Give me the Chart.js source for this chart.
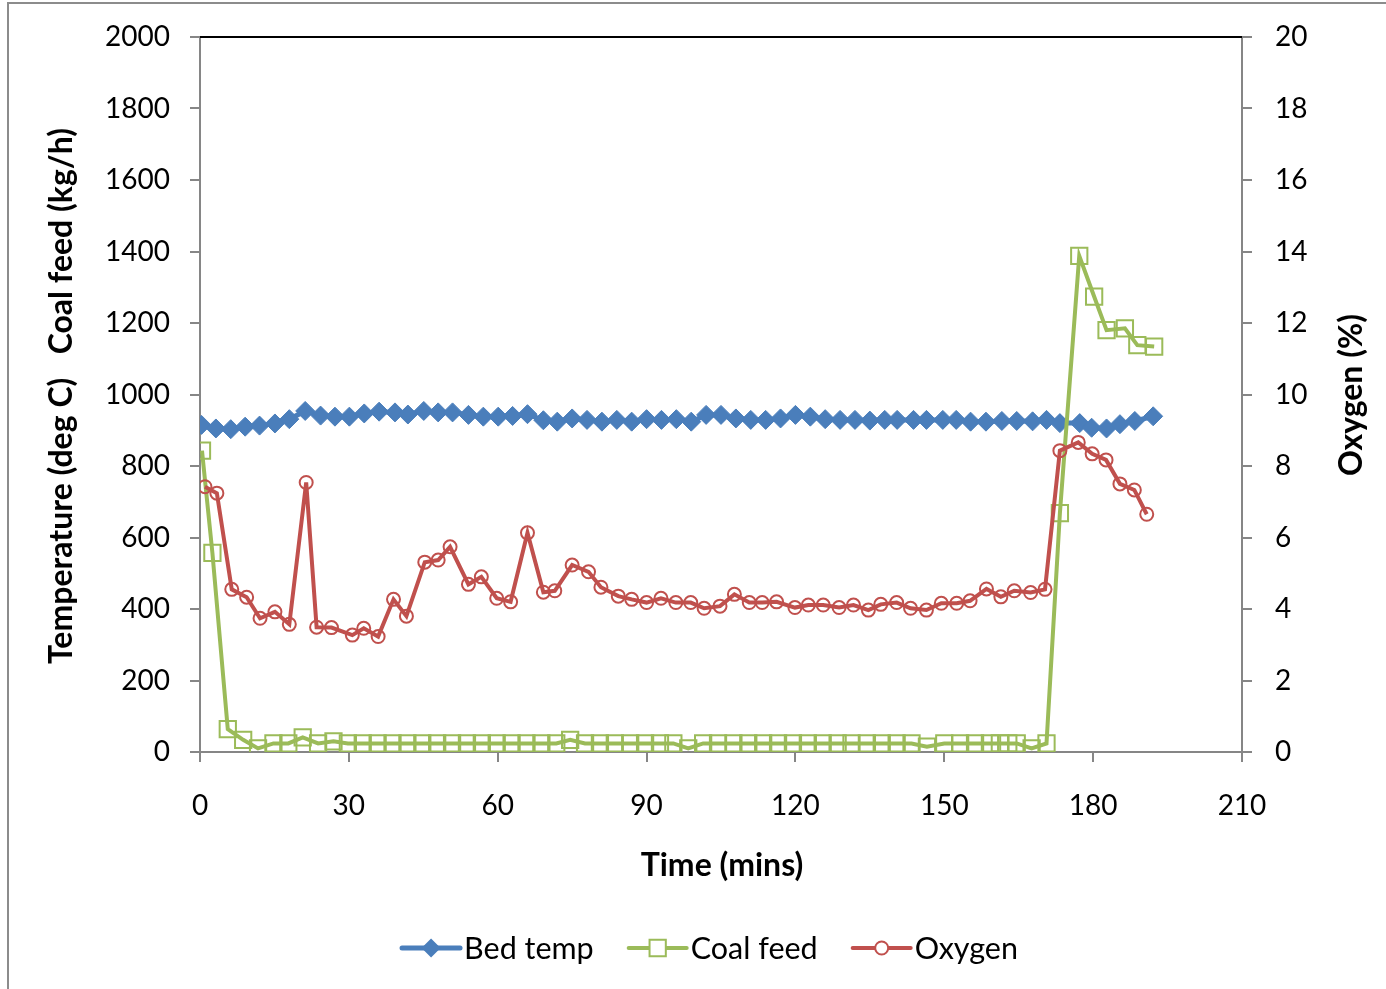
<!DOCTYPE html>
<html><head><meta charset="utf-8">
<script src="https://cdn.jsdelivr.net/npm/chart.js@4.4.1/dist/chart.umd.min.js"></script>
<style>
html,body{margin:0;padding:0;background:#fff;}
#wrap{position:relative;width:1386px;height:989px;overflow:hidden;background:#fff;}
#frame{position:absolute;left:7px;top:2px;width:1400px;height:1000px;border-left:2px solid #8c8c8c;border-top:2px solid #8c8c8c;}
#c{position:absolute;left:0;top:0;}
</style></head><body>
<div id="wrap"><div id="frame"></div><canvas id="c" width="1386" height="989"></canvas></div>
<script>
const xTitle = 'Time (mins)';
const yLeftTitle = 'Temperature (deg C)   Coal feed (kg/h)';
const yRightTitle = 'Oxygen (%)';
const seriesNames = ['Bed temp', 'Coal feed', 'Oxygen'];
const xTickValues = [0, 30, 60, 90, 120, 150, 180, 210];
const leftTickValues = [0, 200, 400, 600, 800, 1000, 1200, 1400, 1600, 1800, 2000];
const rightTickValues = [0, 2, 4, 6, 8, 10, 12, 14, 16, 18, 20];

const bedTime = [0.3,3.2,6.2,9.1,12,15.1,18,21.2,24.3,27.2,30.1,33.1,36.1,39.3,41.9,45.1,48,50.9,54.1,57.1,60.1,63,66,69.2,72,75,78,81,84,87,90,93,96,99,102,105,108,111,114,117,120,123,126,129,132,135,138,140.5,143.8,146.4,149.7,152.4,155.3,158.4,161.6,164.6,167.8,170.6,173.3,177.3,179.7,182.7,185.4,188.4,192.1];
const bedTemp = [915,905,903,910,913,919,931,954,941,938,938,947,952,950,944,954,950,950,943,938,938,940,945,928,924,933,929,924,929,924,931,929,931,924,943,943,933,929,929,933,943,938,931,929,929,927,929,929,929,929,929,929,924,924,926,926,925,929,920,920,907,905,917,926,939];

const coalTime = [0.4,2.5,5.6,8.7,11.7,14.8,17.8,20.7,23.8,26.9,29.8,32.8,35.8,38.8,41.8,44.8,47.8,50.8,53.8,56.8,59.8,62.8,65.8,68.8,71.8,74.6,77.6,80.6,83.6,86.7,89.7,92.7,95.4,98.4,101.4,104.4,107.5,110.5,113.5,116.5,119.5,122.5,125.5,128.5,131.3,134.4,137.4,140.4,143.4,146.5,150,153.2,156.2,159.2,161.2,162.9,164.6,167.6,170.6,173.3,177.2,180.2,182.7,186.4,188.9,192.3];
const coalFeed = [843,557,64,34,10,24,24,41,24,30,
  24,24,24,24,24,24,24,24,24,24,24,24,24,24,24,
  34,
  24,24,24,24,24,24,24,
  10,
  24,24,24,24,24,24,24,24,24,24,24,24,24,24,24,
  15,
  24,24,24,24,24,24,24,
  10,24,668,1388,1274,1180,1185,1138,1134];

const oxyTime = [1,3.4,6.4,9.4,12.1,15.1,18,21.4,23.5,26.5,30.7,33,35.9,39,41.6,45.3,48,50.4,54.1,56.7,59.8,62.6,66,69.2,71.5,75,78.3,80.8,84.3,87,90,92.9,95.9,98.9,101.6,104.8,107.7,110.7,113.3,116.2,119.9,122.6,125.6,128.8,131.7,134.7,137.2,140.4,143.2,146.4,149.4,152.5,155.2,158.5,161.4,164.1,167.4,170.3,173.3,177,179.8,182.6,185.4,188.3,190.8];
const oxygen = [7.42,7.24,4.55,4.33,3.74,3.92,3.57,7.54,3.49,3.48,3.27,3.46,3.23,4.27,3.80,5.31,5.37,5.74,4.69,4.90,4.30,4.20,6.13,4.47,4.51,5.23,5.04,4.61,4.36,4.27,4.18,4.30,4.18,4.18,4.02,4.08,4.41,4.18,4.18,4.20,4.04,4.11,4.11,4.04,4.11,3.97,4.13,4.18,4.02,3.97,4.16,4.16,4.23,4.56,4.34,4.51,4.46,4.55,8.43,8.66,8.34,8.17,7.50,7.33,6.65];

const pts = (xs, ys) => xs.map((x, i) => ({x: x, y: ys[i]}));

const FONT = 'Lato, "Open Sans", sans-serif';
const AXIS_GRAY = '#868686';

const decor = {
  id: 'decor',
  beforeDatasetsDraw(chart) {
    const ctx = chart.ctx, a = chart.chartArea;
    ctx.save();
    ctx.strokeStyle = '#000';
    ctx.lineWidth = 2;
    ctx.beginPath();
    ctx.moveTo(a.left, a.top);
    ctx.lineTo(a.right, a.top);
    ctx.stroke();
    ctx.restore();
  },
  afterDraw(chart) {
    const ctx = chart.ctx;
    ctx.save();
    ctx.fillStyle = '#000';
    ctx.textAlign = 'center';
    ctx.textBaseline = 'middle';
    ctx.font = 'bold 32px ' + FONT;
    ctx.fillText(xTitle, 722, 866);
    ctx.save();
    ctx.translate(62, 396);
    ctx.rotate(-Math.PI / 2);
    ctx.fillText(yLeftTitle, 0, 0);
    ctx.restore();
    ctx.save();
    ctx.translate(1352, 395);
    ctx.rotate(-Math.PI / 2);
    ctx.fillText(yRightTitle, 0, 0);
    ctx.restore();

    // legend
    ctx.font = '30.5px ' + FONT;
    const ds = chart.data.datasets;
    const lineLen = 58, gapLT = 4, gapItems = 35;
    const widths = ds.map(d => lineLen + gapLT + ctx.measureText(d.label).width);
    const total = widths.reduce((s, w) => s + w, 0) + gapItems * (ds.length - 1);
    let x = 710 - total / 2;
    const y = 948;
    ds.forEach((d, i) => {
      ctx.strokeStyle = d.borderColor;
      ctx.lineWidth = d.borderWidth;
      ctx.lineCap = 'round';
      ctx.beginPath();
      ctx.moveTo(x, y);
      ctx.lineTo(x + lineLen, y);
      ctx.stroke();
      const cx = x + lineLen / 2;
      ctx.lineWidth = d.pointBorderWidth;
      ctx.strokeStyle = d.pointBorderColor;
      ctx.fillStyle = d.pointStyle === 'rectRot' ? d.pointBackgroundColor : '#fff';
      const r = d.pointRadius;
      ctx.beginPath();
      if (d.pointStyle === 'rectRot') {
        ctx.moveTo(cx, y - r); ctx.lineTo(cx + r, y); ctx.lineTo(cx, y + r); ctx.lineTo(cx - r, y); ctx.closePath();
        ctx.fill();
      } else if (d.pointStyle === 'rect') {
        const h = r * Math.SQRT1_2;
        ctx.rect(cx - h, y - h, 2 * h, 2 * h);
        ctx.fill(); ctx.stroke();
      } else {
        ctx.arc(cx, y, r, 0, Math.PI * 2);
        ctx.fill(); ctx.stroke();
      }
      ctx.fillStyle = '#000';
      ctx.textAlign = 'left';
      ctx.fillText(d.label, x + lineLen + gapLT, y + 1);
      x += widths[i] + gapItems;
    });
    ctx.restore();
  }
};

const tickFont = {family: FONT, size: 28};
const plain = v => String(v);

new Chart(document.getElementById('c'), {
  type: 'line',
  data: {
    datasets: [
      {
        label: seriesNames[0], data: pts(bedTime, bedTemp), yAxisID: 'y',
        borderColor: '#4A7EBB', backgroundColor: '#4A7EBB', borderWidth: 5,
        pointStyle: 'rectRot', pointRadius: 9.5, pointBorderWidth: 1,
        pointBackgroundColor: '#4A7EBB', pointBorderColor: '#4A7EBB',
        tension: 0, order: 3
      },
      {
        label: seriesNames[1], data: pts(coalTime, coalFeed), yAxisID: 'y',
        borderColor: '#9BBB59', backgroundColor: '#9BBB59', borderWidth: 4,
        pointStyle: 'rect', pointRadius: 11.5, pointBorderWidth: 2,
        pointBackgroundColor: 'rgba(255,255,255,0)', pointBorderColor: '#9BBB59',
        tension: 0, order: 2
      },
      {
        label: seriesNames[2], data: pts(oxyTime, oxygen), yAxisID: 'y2',
        borderColor: '#C0504D', backgroundColor: '#C0504D', borderWidth: 4,
        pointStyle: 'circle', pointRadius: 6.5, pointBorderWidth: 2,
        pointBackgroundColor: 'rgba(255,255,255,0)', pointBorderColor: '#C0504D',
        tension: 0, order: 1
      }
    ]
  },
  options: {
    responsive: false,
    animation: false,
    devicePixelRatio: 1,
    layout: {padding: {top: 37, left: 0, right: 0, bottom: 0}},
    plugins: {legend: {display: false}, tooltip: {enabled: false}},
    elements: {point: {hoverRadius: 0}},
    scales: {
      x: {
        type: 'linear', min: 0, max: 210,
        afterBuildTicks: s => { s.ticks = xTickValues.map(v => ({value: v})); },
        afterFit: s => { s.height = 989 - 752; s.paddingLeft = 0; s.paddingRight = 0; },
        border: {display: true, color: AXIS_GRAY, width: 2},
        grid: {display: true, drawOnChartArea: false, drawTicks: true, tickLength: 10, color: AXIS_GRAY, lineWidth: 2},
        ticks: {font: tickFont, color: '#000', padding: 27, maxRotation: 0, callback: plain}
      },
      y: {
        type: 'linear', position: 'left', min: 0, max: 2000,
        afterBuildTicks: s => { s.ticks = leftTickValues.map(v => ({value: v})); },
        afterFit: s => { s.width = 200; s.paddingTop = 0; s.paddingBottom = 0; },
        border: {display: true, color: AXIS_GRAY, width: 2},
        grid: {display: true, drawOnChartArea: false, drawTicks: true, tickLength: 10, color: AXIS_GRAY, lineWidth: 2},
        ticks: {font: tickFont, color: '#000', padding: 20, callback: plain}
      },
      y2: {
        type: 'linear', position: 'right', min: 0, max: 20,
        afterBuildTicks: s => { s.ticks = rightTickValues.map(v => ({value: v})); },
        afterFit: s => { s.width = 1386 - 1242; s.paddingTop = 0; s.paddingBottom = 0; },
        border: {display: true, color: AXIS_GRAY, width: 2},
        grid: {display: true, drawOnChartArea: false, drawTicks: true, tickLength: 10, color: AXIS_GRAY, lineWidth: 2},
        ticks: {font: tickFont, color: '#000', padding: 23, callback: plain}
      }
    }
  },
  plugins: [decor]
});
</script>
</body></html>
